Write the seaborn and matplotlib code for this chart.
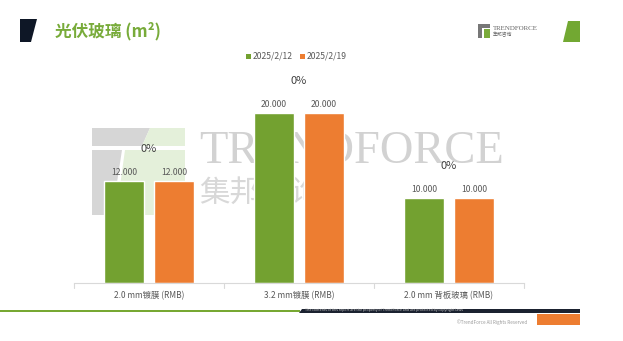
import matplotlib
matplotlib.use("Agg")
import matplotlib.pyplot as plt
from matplotlib.patches import Polygon, Rectangle
import seaborn as sns
import pandas as pd

# ---- data ----
categories = ["2.0 mm镀膜 (RMB)", "3.2 mm镀膜 (RMB)", "2.0 mm 背板玻璃 (RMB)"]
dates = ["2025/2/12", "2025/2/19"]
values_0212 = [12.0, 20.0, 10.0]
values_0219 = [12.0, 20.0, 10.0]
title_text = "光伏玻璃 (m²)"

df = pd.DataFrame({
    "category": categories * 2,
    "date": [dates[0]] * 3 + [dates[1]] * 3,
    "value": values_0212 + values_0219,
})

GREEN = "#73a130"
ORANGE = "#ed7d31"
TITLE_GREEN = "#78ab3a"

sns.set_theme(style="white")
plt.rcParams["font.family"] = ["Noto Sans CJK SC", "DejaVu Sans"]

W, H = 623, 341
fig = plt.figure(figsize=(W / 100, H / 100), dpi=100)
fig.patch.set_facecolor("white")

def fx(x):
    return x / W

def fy(y):
    return 1 - y / H

# ---- watermark (behind chart) ----
wm_gray = "#d6d6d6"
wm_green = "#e4f0da"
fig.patches.append(Polygon([(fx(92), fy(128)), (fx(150), fy(128)), (fx(142), fy(146)), (fx(92), fy(146))],
                           closed=True, transform=fig.transFigure, facecolor=wm_gray, edgecolor="none", zorder=-2))
fig.patches.append(Polygon([(fx(150), fy(128)), (fx(185), fy(128)), (fx(185), fy(146)), (fx(142), fy(146))],
                           closed=True, transform=fig.transFigure, facecolor=wm_green, edgecolor="none", zorder=-2))
fig.patches.append(Polygon([(fx(92), fy(150)), (fx(122), fy(150)), (fx(112), fy(215)), (fx(92), fy(215))],
                           closed=True, transform=fig.transFigure, facecolor=wm_gray, edgecolor="none", zorder=-2))
fig.patches.append(Polygon([(fx(125), fy(150)), (fx(185), fy(150)), (fx(185), fy(215)), (fx(116), fy(215))],
                           closed=True, transform=fig.transFigure, facecolor=wm_green, edgecolor="none", zorder=-2))
fig.text(fx(199), fy(163), "TRENDFORCE", family=["Liberation Serif", "DejaVu Serif"], fontsize=33.5,
         color="#d2d2d2", ha="left", va="baseline", zorder=-1)
fig.text(fx(199), fy(193), "集邦咨询", family=["Noto Sans CJK SC"], fontsize=22,
         color="#d8d8d8", ha="left", va="center", zorder=-1)

# ---- header ----
fig.patches.append(Polygon([(fx(20), fy(19)), (fx(37), fy(19)), (fx(31), fy(42)), (fx(20), fy(42))],
                           closed=True, transform=fig.transFigure, facecolor="#0e1726", edgecolor="none"))
fig.text(fx(55), fy(31), title_text, fontsize=12, fontweight="bold", color=TITLE_GREEN,
         ha="left", va="center")
fig.patches.append(Polygon([(fx(568), fy(21)), (fx(580), fy(21)), (fx(580), fy(42)), (fx(563), fy(42))],
                           closed=True, transform=fig.transFigure, facecolor="#72a832", edgecolor="none"))
# small logo
fig.patches.append(Rectangle((fx(478), fy(28)), fx(12), 4 / H, transform=fig.transFigure,
                             facecolor="#777777", edgecolor="none"))
fig.patches.append(Rectangle((fx(478), fy(38)), fx(4), 10 / H, transform=fig.transFigure,
                             facecolor="#777777", edgecolor="none"))
fig.patches.append(Rectangle((fx(484), fy(38)), fx(6), 9 / H, transform=fig.transFigure,
                             facecolor="#7aab3a", edgecolor="none"))
fig.text(fx(493), fy(28), "TRENDFORCE", family=["Liberation Serif", "DejaVu Serif"], fontsize=5,
         color="#666666", ha="left", va="center")
fig.text(fx(493), fy(35), "集邦咨询", fontsize=3.5, color="#666666", ha="left", va="center")

# ---- footer ----
fig.patches.append(Rectangle((0, fy(312)), fx(300), 2.5 / H, transform=fig.transFigure,
                             facecolor="#77a832", edgecolor="none"))
fig.patches.append(Polygon([(fx(302), fy(308.5)), (fx(580), fy(308.5)), (fx(580), fy(312.5)), (fx(299), fy(312.5))],
                           closed=True, transform=fig.transFigure, facecolor="#1b2230", edgecolor="none"))
fig.text(fx(305), fy(310.5), "The contents of this report are the property of TrendForce and are protected by copyright laws",
         fontsize=2.6, color="#c8c8c8", ha="left", va="center")
fig.text(fx(527), fy(322), "©TrendForce All Rights Reserved", fontsize=3.3, color="#9a9a9a",
         ha="right", va="center")
fig.patches.append(Rectangle((fx(537), fy(325)), fx(43), 11 / H, transform=fig.transFigure,
                             facecolor=ORANGE, edgecolor="none"))

# ---- chart ----
px_per_unit = 8.5
ax_top_px, ax_bot_px = 60, 283
ax = fig.add_axes([fx(74), fy(ax_bot_px), fx(450), (ax_bot_px - ax_top_px) / H])
ax.set_facecolor("none")

sns.barplot(data=df, x="category", y="value", hue="date", hue_order=dates,
            order=categories, palette=[GREEN, ORANGE], width=0.667, gap=0.2,
            saturation=1, ax=ax, legend=False, errorbar=None)

ax.set_ylim(0, (ax_bot_px - ax_top_px) / px_per_unit)
ax.set_xlim(-0.5, len(categories) - 0.5)

for cont in ax.containers:
    ax.bar_label(cont, labels=[f"{v:.3f}" for v in cont.datavalues], padding=3,
                 fontsize=6.2, color="#595959")

for i, (a, b) in enumerate(zip(values_0212, values_0219)):
    pct = (b - a) / a * 100
    ax.annotate(f"{pct:.0f}%", xy=(i, max(a, b)), xytext=(0, 23), textcoords="offset points",
                ha="center", va="center", fontsize=8, color="#404040")

ax.set_xlabel("")
ax.set_ylabel("")
ax.set_yticks([])
ax.tick_params(axis="x", length=0, pad=6, labelsize=6, labelcolor="#595959")
for s in ["top", "right", "left"]:
    ax.spines[s].set_visible(False)
ax.spines["bottom"].set_color("#d9d9d9")
ax.spines["bottom"].set_linewidth(0.8)
# category boundary ticks
for b in [-0.5, 0.5, 1.5, 2.5]:
    ax.plot([b, b], [0, -0.55], color="#d9d9d9", lw=0.8, clip_on=False)

# ---- legend ----
fig.patches.append(Rectangle((fx(246), fy(58.5)), fx(5), 5 / H, transform=fig.transFigure,
                             facecolor=GREEN, edgecolor="none"))
fig.text(fx(253), fy(56), dates[0], fontsize=6.2, color="#595959", ha="left", va="center")
fig.patches.append(Rectangle((fx(300), fy(58.5)), fx(5), 5 / H, transform=fig.transFigure,
                             facecolor=ORANGE, edgecolor="none"))
fig.text(fx(307), fy(56), dates[1], fontsize=6.2, color="#595959", ha="left", va="center")

fig.savefig("out.png", dpi=100)
